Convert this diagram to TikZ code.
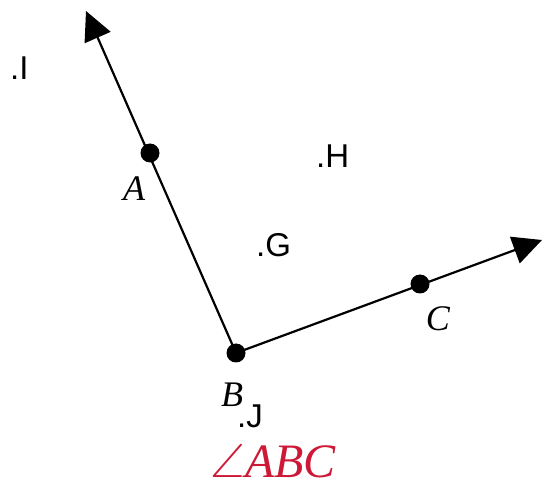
\documentclass[tikz,border=0pt]{standalone}
\usepackage{fontspec}
\usepackage{amssymb}
\setmainfont{Liberation Serif}
\newfontfamily\lbsans{Liberation Sans}
\usetikzlibrary{arrows.meta}
\definecolor{anglered}{RGB}{205,25,55}
\begin{document}
\begin{tikzpicture}[x=1pt,y=-1pt,
  dot/.style={circle,fill=black,inner sep=0pt,minimum size=19pt},
  ray/.style={line width=2.2pt,-{Triangle[length=29pt,width=28pt]}},
  ptlabel/.style={inner sep=0pt,anchor=base,font=\fontsize{36}{42}\selectfont\itshape},
  freelabel/.style={inner sep=0pt,anchor=base west,font=\lbsans\fontsize{33}{40}\selectfont},
  titlelabel/.style={inner sep=0pt,anchor=base,text=anglered,font=\fontsize{48}{58}\selectfont\itshape}]
\useasboundingbox (0,0) rectangle (547,489);
\node[dot] (B) at (236,353) {};
\node[dot] (A) at (150,153) {};
\node[dot] (C) at (420,284) {};
\coordinate (tA) at (86,11);
\coordinate (tC) at (542,240);
\draw[ray] (B.center) -- (tA);
\draw[ray] (B.center) -- (tC);
\node[ptlabel] (lA) at (134,201) {A};
\node[ptlabel] (lB) at (232,407) {B};
\node[ptlabel] (lC) at (438,331) {C};
\node[freelabel] (lI) at (10,80) {.I};
\node[freelabel] (lH) at (316,168) {.H};
\node[freelabel] (lG) at (256,257) {.G};
\node[freelabel] (lJ) at (237,428) {.J};
\node[titlelabel] (lt) at (273,478) {$\angle$ABC};
\end{tikzpicture}
\end{document}
